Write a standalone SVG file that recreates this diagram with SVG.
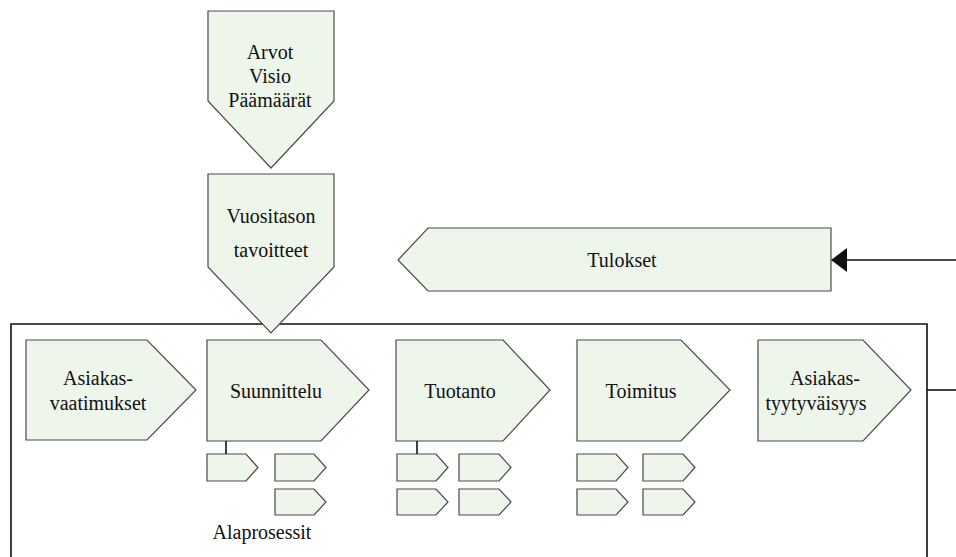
<svg xmlns="http://www.w3.org/2000/svg" width="956" height="557" viewBox="0 0 956 557">
<style>
.s{fill:#eef5ea;stroke:#4a4a4a;stroke-width:1.2}
.t{font-size:20px;fill:#111;text-anchor:middle}
.c{stroke:#111;stroke-width:1.6;fill:none}
</style>
<rect width="956" height="557" fill="#fff"/>
<g id="frame">
<path d="M11,557 L11,324 L927,324 L927,557" class="c"/>
</g>
<g font-family="Liberation Serif, DejaVu Serif, Noto Serif, serif">
<g id="arvot">
<polygon class="s" points="208,11 334,11 334,101 271,168 208,101"/>
<text class="t" x="270" y="59">Arvot</text>
<text class="t" x="270" y="83">Visio</text>
<text class="t" x="270" y="107">Päämäärät</text>
</g>
<g id="vuositason">
<polygon class="s" points="208,174 334,174 334,267 271,333 208,267"/>
<text class="t" x="271" y="223">Vuositason</text>
<text class="t" x="271" y="257">tavoitteet</text>
</g>
<g id="tulokset">
<polygon class="s" points="398,260 428,228 831,228 831,291 428,291"/>
<text class="t" x="622" y="267">Tulokset</text>
</g>
<g id="asiakasvaatimukset">
<polygon class="s" points="26,340 147,340 196,390 147,440 26,440"/>
<text class="t" x="98" y="385">Asiakas-</text>
<text class="t" x="98" y="410">vaatimukset</text>
</g>
<g id="suunnittelu">
<polygon class="s" points="207,340 321,340 369,390 321,441 207,441"/>
<text class="t" x="276" y="398">Suunnittelu</text>
</g>
<g id="tuotanto">
<polygon class="s" points="396,340 503,340 550,390 503,441 396,441"/>
<text class="t" x="460" y="398">Tuotanto</text>
</g>
<g id="toimitus">
<polygon class="s" points="577,340 681,340 730,390 681,441 577,441"/>
<text class="t" x="641" y="398">Toimitus</text>
</g>
<g id="asiakastyytyvaisyys">
<polygon class="s" points="758,340 863,340 911,390 863,441 758,441"/>
<text class="t" x="825" y="385">Asiakas-</text>
<text class="t" x="816" y="410">tyytyväisyys</text>
</g>
<g id="alaprosessit">
<polygon class="s" points="207,454 246,454 258,467.5 246,481 207,481"/>
<polygon class="s" points="275,454 314,454 326,467.5 314,481 275,481"/>
<polygon class="s" points="275,489 314,489 326,502 314,515 275,515"/>
<polygon class="s" points="397,454 436,454 448,467.5 436,481 397,481"/>
<polygon class="s" points="459,454 499,454 511,467.5 499,481 459,481"/>
<polygon class="s" points="397,489 436,489 448,502 436,515 397,515"/>
<polygon class="s" points="459,489 499,489 511,502 499,515 459,515"/>
<polygon class="s" points="577,454 616,454 628,467.5 616,481 577,481"/>
<polygon class="s" points="643,454 683,454 695,467.5 683,481 643,481"/>
<polygon class="s" points="577,489 616,489 628,502 616,515 577,515"/>
<polygon class="s" points="643,489 683,489 695,502 683,515 643,515"/>
<text class="t" x="262" y="539">Alaprosessit</text>
</g>
</g>
<g id="connectors">
<line class="c" x1="226" y1="441" x2="226" y2="454"/>
<line class="c" x1="417" y1="441" x2="417" y2="454"/>
<line class="c" x1="927" y1="390" x2="956" y2="390"/>
<line class="c" x1="956" y1="260" x2="847" y2="260"/>
<polygon points="831,260 847,248 847,272" fill="#111"/>
</g>
</svg>
